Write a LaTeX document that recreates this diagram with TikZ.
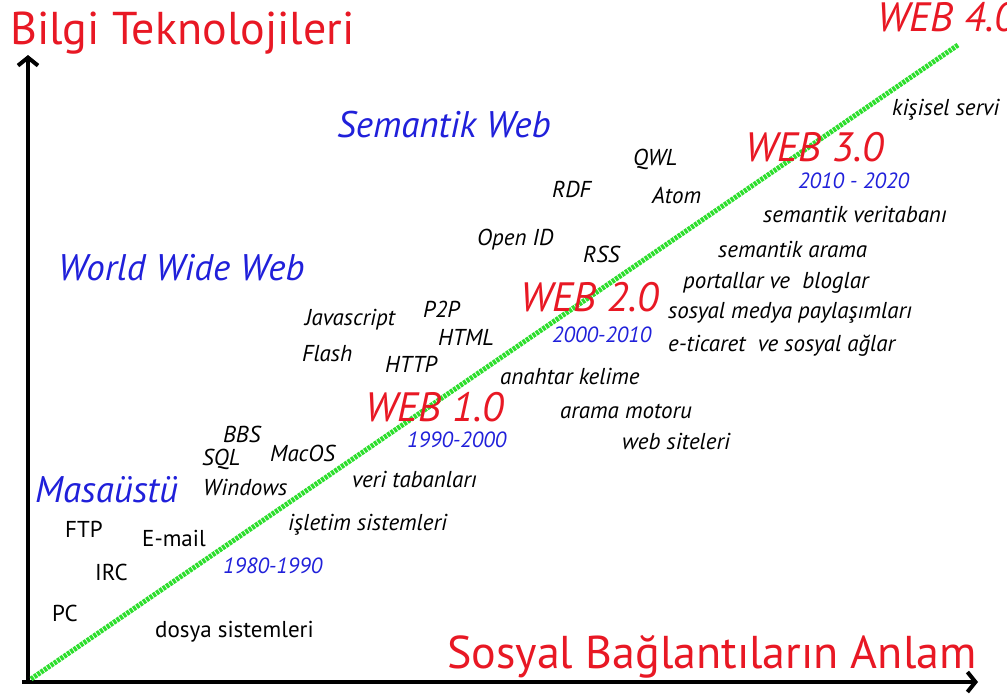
\documentclass[tikz,border=0pt]{standalone}
\usepackage{fontspec}
\setmainfont{PT Sans}
\usetikzlibrary{arrows.meta}
\definecolor{titlered}{RGB}{232,24,36}
\definecolor{erablue}{RGB}{32,32,218}
\definecolor{trendgreen}{RGB}{45,222,45}

\begin{document}
\begin{tikzpicture}[x=1pt, y=-1pt]
  \tikzset{
    axis/.style={line width=4pt, -{Straight Barb[length=8pt, width=20pt]}},
    trend/.style={line width=5pt, trendgreen, dash pattern=on 3pt off 1pt},
    item/.style={anchor=base west, inner sep=0pt, font=\itshape\fontsize{23}{27}\selectfont},
    plain item/.style={item, font=\upshape\fontsize{23}{27}\selectfont},
    era/.style={anchor=base west, inner sep=0pt, text=titlered, font=\itshape\fontsize{41}{46}\selectfont},
    period/.style={item, text=erablue, font=\itshape\fontsize{22}{26}\selectfont},
    paradigm/.style={anchor=base west, inner sep=0pt, text=erablue, font=\itshape\fontsize{37}{42}\selectfont},
    axis title/.style={anchor=base west, inner sep=0pt, text=titlered, font=\fontsize{46}{52}\selectfont}
  }
  \useasboundingbox (0,0) rectangle (1007,697);

  % Coordinate axes
  \coordinate (origin) at (28,682);
  \coordinate (ytip) at (28,55);
  \coordinate (xstart) at (22,682);
  \coordinate (xtip) at (978,682);
  \draw[axis] (origin) -- (ytip);
  \draw[axis] (xstart) -- (xtip);
  \node[axis title] (ytitle) at (10,44) {Bilgi Teknolojileri};
  \node[axis title] (xtitle) at (447,668) {Sosyal Bağlantıların Anlam};

  % Trend line
  \coordinate (trendstart) at (31,679);
  \coordinate (trendend) at (958,45);
  \draw[trend] (trendstart) -- (trendend);

  % Eras and periods
  \node[era] (web1) at (365,421) {WEB 1.0};
  \node[era] (web2) at (520,311) {WEB 2.0};
  \node[era] (web3) at (745,161) {WEB 3.0};
  \node[era] (web4) at (877,31) {WEB 4.0};
  \node[period] (p80) at (223,573) {1980-1990};
  \node[period] (p90) at (407,447) {1990-2000};
  \node[period] (p00) at (552,342) {2000-2010};
  \node[period] (p10) at (798,188) {2010 - 2020};

  % Paradigms
  \node[paradigm] (desktop) at (35,502) {Masaüstü};
  \node[paradigm] (www) at (58,280) {World Wide Web};
  \node[paradigm] (semweb) at (337,137) {Semantik Web};

  % Desktop technologies
  \node[plain item] (ftp) at (65,537) {FTP};
  \node[plain item] (email) at (142,546) {E-mail};
  \node[plain item] (irc) at (95,580) {IRC};
  \node[plain item] (pc) at (52,621) {PC};
  \node[plain item] (filesys) at (155,637) {dosya sistemleri};
  \node[item] (bbs) at (223,442) {BBS};
  \node[item] (sql) at (202,465) {SQL};
  \node[item] (macos) at (270,461) {MacOS};
  \node[item] (windows) at (203,495) {Windows};
  \node[item] (database) at (352,487) {veri tabanları};
  \node[item] (os) at (288,530) {işletim sistemleri};

  % Web technologies
  \node[item] (js) at (305,325) {Javascript};
  \node[item] (p2p) at (423,317) {P2P};
  \node[item] (html) at (438,345) {HTML};
  \node[item] (flash) at (302,361) {Flash};
  \node[item] (http) at (385,372) {HTTP};
  \node[item] (keyword) at (500,384) {anahtar kelime};
  \node[item] (search) at (560,418) {arama motoru};
  \node[item] (sites) at (622,449) {web siteleri};

  % Semantic web technologies
  \node[item] (qwl) at (633,165) {QWL};
  \node[item] (rdf) at (552,197) {RDF};
  \node[item] (atom) at (652,203) {Atom};
  \node[item] (openid) at (477,245) {Open ID};
  \node[item] (rss) at (583,262) {RSS};
  \node[item] (semdb) at (763,222) {semantik veritabanı};
  \node[item] (semsearch) at (718,257) {semantik arama};
  \node[item] (portals) at (683,288) {portallar ve\ \ bloglar};
  \node[item] (media) at (668,318) {sosyal medya paylaşımları};
  \node[item] (commerce) at (668,351) {e-ticaret\ \ ve sosyal ağlar};
  \node[item] (personal) at (892,115) {kişisel servi};
\end{tikzpicture}
\end{document}
